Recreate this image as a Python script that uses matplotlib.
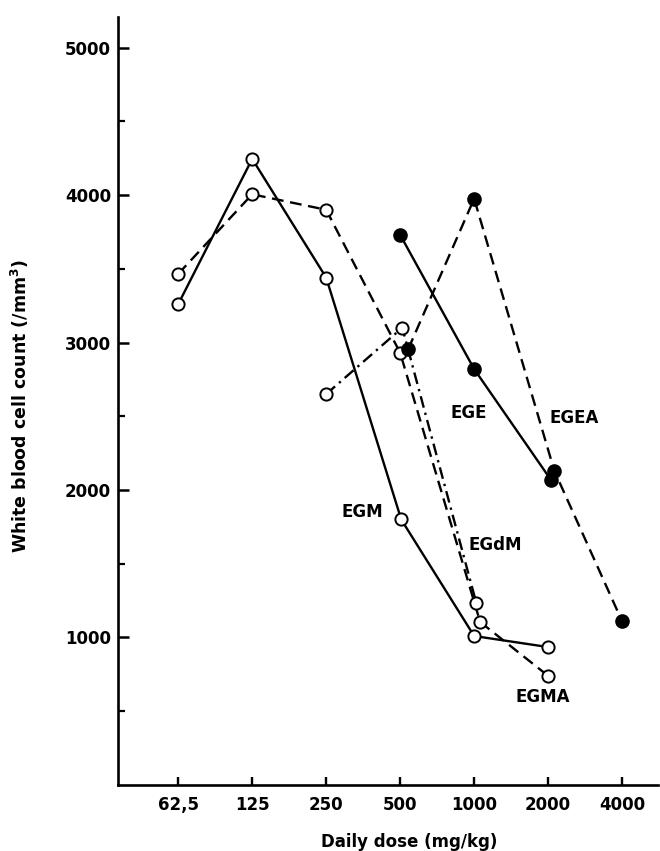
import matplotlib
matplotlib.use("Agg")
import matplotlib.pyplot as plt
from matplotlib.ticker import FixedLocator, NullFormatter

# ---- data ----
tick_doses = [62.5, 125, 250, 500, 1000, 2000, 4000]
tick_labels = ["62,5", "125", "250", "500", "1000", "2000", "4000"]
y_major = [1000, 2000, 3000, 4000, 5000]
y_minor = [500, 1500, 2500, 3500, 4500]

egm_x = [62.5, 125, 250, 505, 1000, 2000]
egm_y = [3260, 4245, 3440, 1800, 1010, 935]

egma_x = [62.5, 125, 250, 500, 1058, 2000]
egma_y = [3465, 4005, 3900, 2930, 1105, 740]

egdm_x = [250, 510, 1020]
egdm_y = [2650, 3100, 1235]

ege_x = [500, 1000, 2060]
ege_y = [3730, 2820, 2065]

egea_x = [539, 1000, 2120, 4000]
egea_y = [2955, 3975, 2130, 1110]

series_labels = {
    "EGM": (350, 1850),
    "EGdM": (1218, 1627),
    "EGMA": (1908, 597),
    "EGE": (954, 2522),
    "EGEA": (2551, 2488),
}

# ---- figure ----
fig = plt.figure(figsize=(6.6, 8.51), dpi=100)
ax = fig.add_axes([0.179, 0.0776, 0.818, 0.9024])
ax.set_xscale("log", base=2)
ax.set_xlim(35.6, 5600)
ax.set_ylim(0, 5207)

lw = 1.7
open_kw = dict(marker="o", markersize=8.8, markerfacecolor="white",
               markeredgecolor="black", markeredgewidth=1.4, color="black", lw=lw)
fill_kw = dict(marker="o", markersize=9.5, markerfacecolor="black",
               markeredgecolor="black", color="black", lw=lw)

ax.plot(egm_x, egm_y, linestyle="-", **open_kw)
ax.plot(egma_x, egma_y, linestyle=(0, (5, 2.8)), **open_kw)
ax.plot(egdm_x, egdm_y, linestyle=(0, (5, 2.2, 1, 2.2)), **open_kw)
ax.plot(ege_x, ege_y, linestyle="-", **fill_kw)
ax.plot(egea_x, egea_y, linestyle=(0, (5, 2.8)), **fill_kw)

for name, (lx, ly) in series_labels.items():
    ax.text(lx, ly, name, fontsize=12, fontweight="bold", ha="center",
            va="center", family="DejaVu Sans")

# spines
for s in ["top", "right"]:
    ax.spines[s].set_visible(False)
for s in ["left", "bottom"]:
    ax.spines[s].set_linewidth(1.9)

ax.xaxis.set_major_locator(FixedLocator(tick_doses))
ax.xaxis.set_minor_locator(FixedLocator([]))
ax.set_xticklabels(tick_labels)
ax.xaxis.set_minor_formatter(NullFormatter())
ax.yaxis.set_major_locator(FixedLocator(y_major))
ax.yaxis.set_minor_locator(FixedLocator(y_minor))

ax.tick_params(axis="x", which="major", direction="in", length=6, width=1.7,
               pad=8, labelsize=12)
ax.tick_params(axis="y", which="major", direction="in", length=8, width=1.8,
               pad=5, labelsize=12)
ax.tick_params(axis="y", which="minor", direction="in", length=5, width=1.6)
for lab in ax.get_xticklabels() + ax.get_yticklabels():
    lab.set_fontweight("bold")

ax.set_xlabel("Daily dose (mg/kg)", fontsize=12, fontweight="bold")
ax.xaxis.set_label_coords(0.54, -0.062)
ax.set_ylabel("White blood cell count (/mm$^\\mathbf{3}$)", fontsize=12.5,
              fontweight="bold")
ax.yaxis.set_label_coords(-0.162, 0.493)

fig.savefig("out.png", dpi=100)
